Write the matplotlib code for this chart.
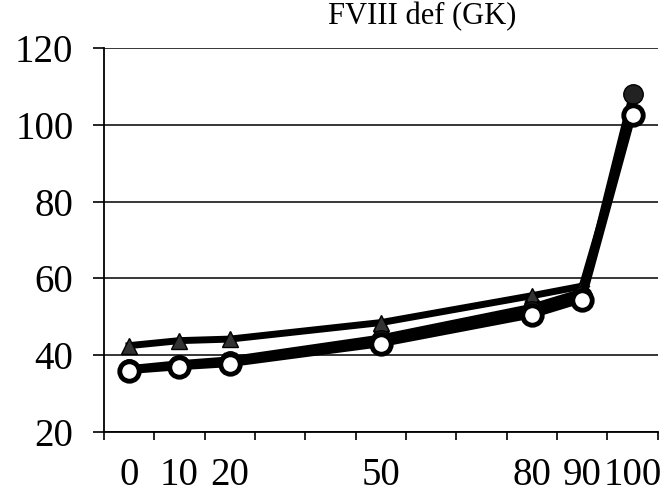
import matplotlib
matplotlib.use("Agg")
import matplotlib.pyplot as plt
import numpy as np

# FVIII-deficient plasma (GK) mixing series
x_vals = [0, 10, 20, 50, 80, 90, 100]
x_labels = ["0", "10", "20", "50", "80", "90", "100"]
tri_series = [42.5, 43.8, 44.2, 48.5, 55.5, 58.0, 103.0]
cross_series = [36.5, 37.8, 38.8, 44.5, 52.5, 56.5, 103.0]
open_series = [36.0, 37.0, 37.8, 43.0, 50.5, 54.5, 102.5]
filled_series = [36.4, 37.4, 38.4, 44.0, 51.5, 55.5, 108.0]
y_ticks = [20, 40, 60, 80, 100, 120]

SERIF = ["Liberation Serif", "DejaVu Serif"]

fig = plt.figure(figsize=(6.64, 4.98), dpi=100)
ax = fig.add_axes([0.1566, 0.1325, 0.834, 0.771])

ax.plot(x_vals, tri_series, color="black", lw=5, marker="^", ms=11,
        mfc="#333333", mec="black", zorder=3)
ax.plot(x_vals, cross_series, color="black", lw=5, marker="x", ms=10,
        mew=2, zorder=3)
ax.plot(x_vals, filled_series, color="black", lw=5, marker="o", ms=14,
        mfc="#222222", mec="black", zorder=4)
ax.plot(x_vals, open_series, color="black", lw=5, marker="o", ms=14,
        mfc="white", mec="black", mew=3.5, zorder=5)

ax.set_xlim(-5, 105)
ax.set_ylim(20, 120)

# boundaries between categories carry the tick marks, labels sit in between
ax.set_xticks(np.arange(-5, 106, 10))
ax.set_xticklabels([])
ax.set_xticks(x_vals, minor=True)
ax.set_xticklabels(x_labels, minor=True, fontsize=28, family=SERIF)
ax.tick_params(axis="x", which="major", direction="out", length=6, width=1.2)
ax.tick_params(axis="x", which="minor", length=0, pad=18)

ax.set_yticks(y_ticks)
ax.set_yticklabels([str(v) for v in y_ticks], fontsize=28, family=SERIF)
ax.tick_params(axis="y", direction="out", length=8, width=1.2, pad=14)

ax.grid(axis="y", color="black", lw=1.1)
ax.set_axisbelow(True)
for side in ["top", "right"]:
    ax.spines[side].set_visible(False)
for side in ["left", "bottom"]:
    ax.spines[side].set_linewidth(1.3)

fig.text(0.636, 0.966, "FVIII def (GK)", ha="center", va="center",
         fontsize=22, family=SERIF)

fig.savefig("out.png", dpi=100)
